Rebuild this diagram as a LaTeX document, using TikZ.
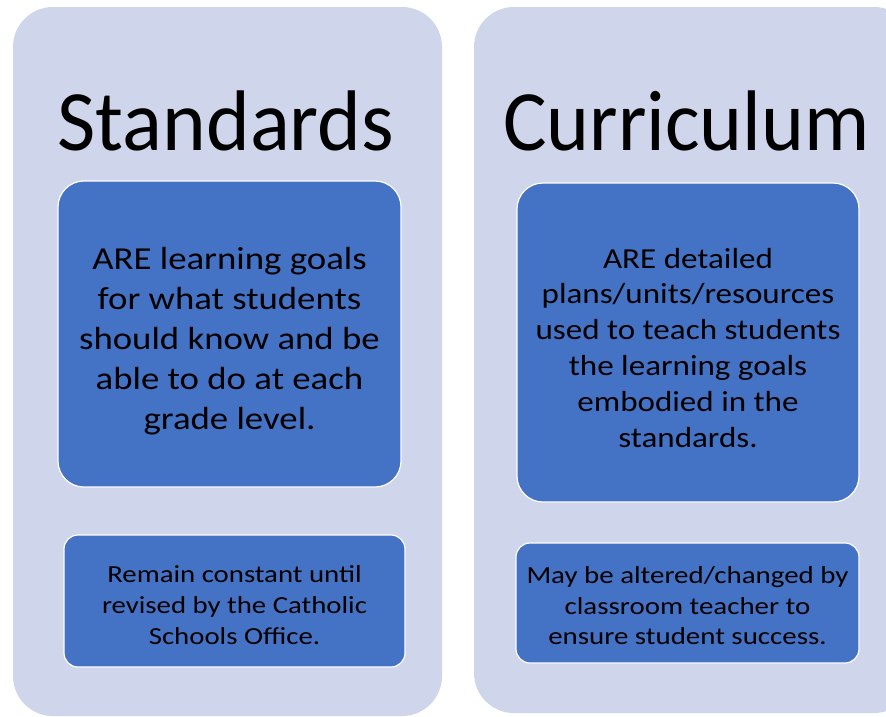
\documentclass[tikz,border=0pt]{standalone}
\usepackage{fontspec}
\usepackage{graphicx}
\setmainfont{Carlito}
\definecolor{lav}{HTML}{CFD5EA}
\definecolor{blu}{HTML}{4472C4}
\newcommand{\wide}[2]{\scalebox{#1}[1]{\begin{tabular}{@{}c@{}}#2\end{tabular}}}
\begin{document}
\begin{tikzpicture}[x=1pt,y=-1pt,
  outer/.style={fill=lav, draw=none, rounded corners=40pt},
  inner/.style={fill=blu, draw=white, line width=1.2pt, rounded corners=26pt},
  innersm/.style={fill=blu, draw=white, line width=1.2pt, rounded corners=14pt},
  title/.style={font=\fontsize{86}{100}\selectfont, text=black, anchor=base, inner sep=0pt},
  body/.style={align=center, text=black, inner sep=0pt}]
\useasboundingbox (0,0) rectangle (886,716);
\fill[white] (0,0) rectangle (886,716);
\node[outer, minimum width=429pt, minimum height=709pt] (lbox) at (227.5,361.5) {};
\node[outer, minimum width=440pt, minimum height=706pt] (rbox) at (694,360) {};
\node[inner, minimum width=343pt, minimum height=306pt] (lt) at (229.5,334) {};
\node[innersm, minimum width=341pt, minimum height=132pt] (lb) at (234.5,601) {};
\node[inner, minimum width=342pt, minimum height=319pt] (rt) at (688,342.5) {};
\node[innersm, minimum width=343pt, minimum height=120pt] (rb) at (687.5,603) {};
\node[title] (ltitle) at (226,150) {\scalebox{0.968}[1]{Standards}};
\node[title] (rtitle) at (686.5,150) {\scalebox{0.95}[1]{Curriculum}};
\node[body, font=\fontsize{32}{40}\selectfont] (ltt) at ([yshift=-7pt]lt.center) {\wide{1.15}{ARE learning goals\\for what students\\should know and be\\able to do at each\\grade level.}};
\node[body, font=\fontsize{24.5}{31}\selectfont] (lbt) at ([yshift=-6pt]lb.center) {\wide{1.175}{Remain constant until\\revised by the Catholic\\Schools Office.}};
\node[body, font=\fontsize{29}{35.8}\selectfont] (rtt) at ([yshift=-8pt]rt.center) {\wide{1.14}{ARE detailed\\plans/units/resources\\used to teach students\\the learning goals\\embodied in the\\standards.}};
\node[body, font=\fontsize{24.5}{30.5}\selectfont] (rbt) at ([yshift=-5pt]rb.center) {\wide{1.18}{May be altered/changed by\\classroom teacher to\\ensure student success.}};
\end{tikzpicture}
\end{document}
